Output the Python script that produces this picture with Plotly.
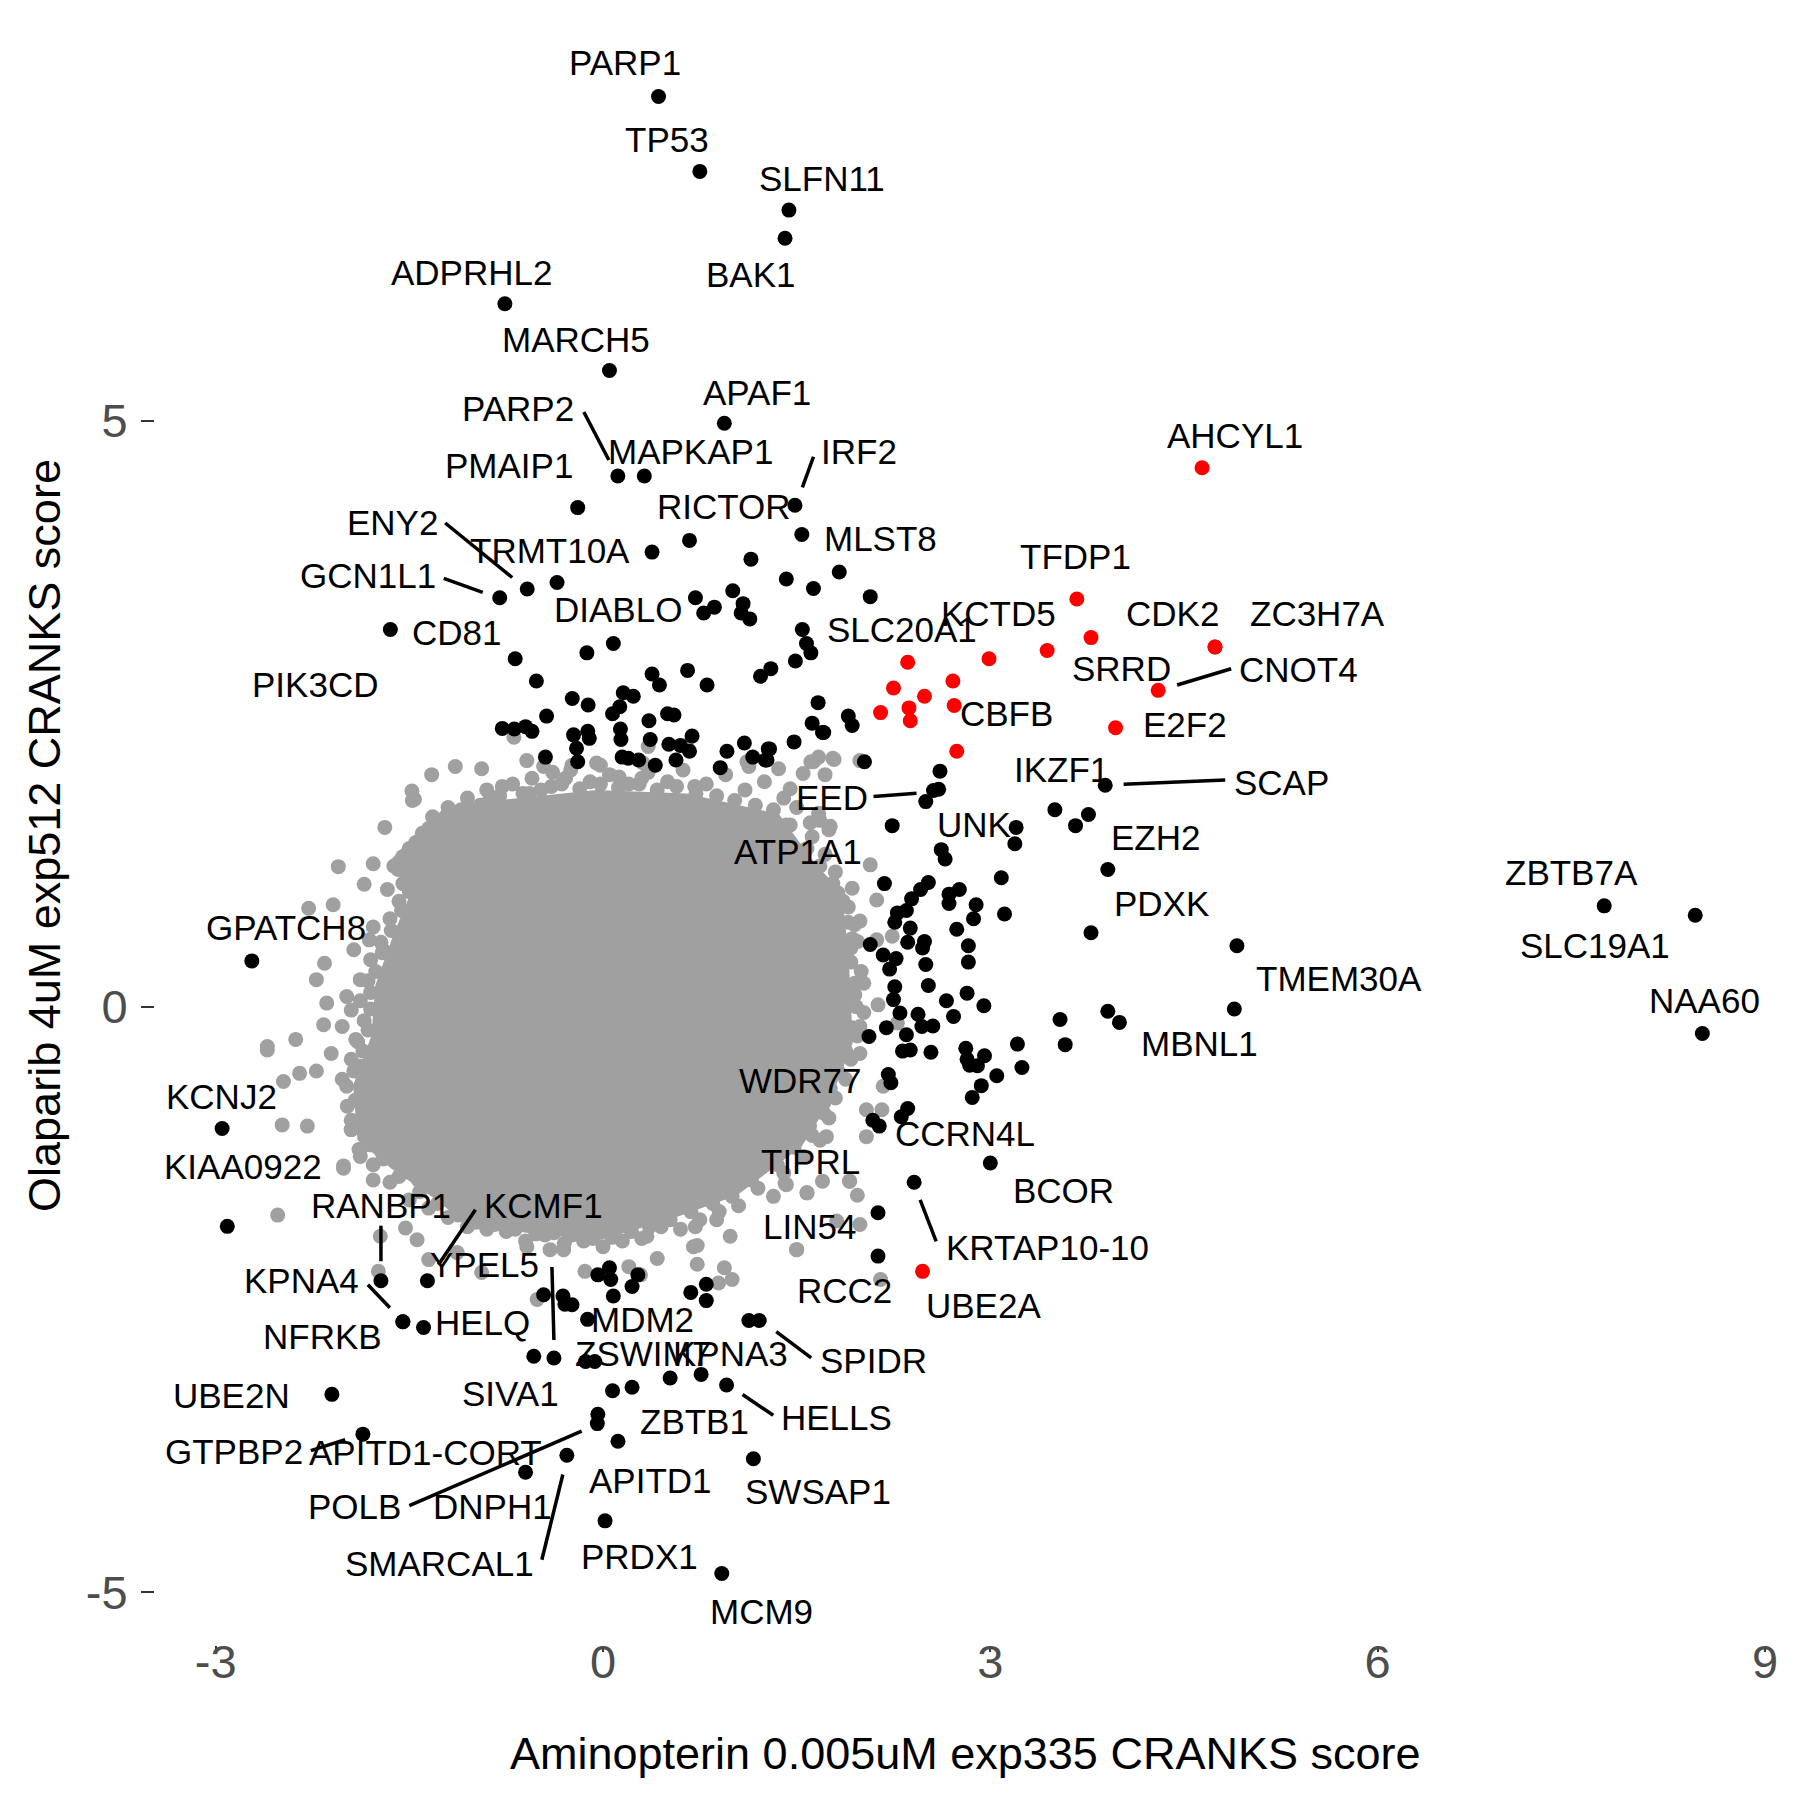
import plotly.graph_objects as go

# ---------------- data ----------------
# labelled genes: name, x score, y score, colour group
gene_names = ["PARP1","TP53","SLFN11","BAK1","ADPRHL2","MARCH5","APAF1","PARP2","MAPKAP1","PMAIP1",
              "IRF2","RICTOR","MLST8","ENY2","TRMT10A","GCN1L1","DIABLO","CD81","PIK3CD","SLC20A1",
              "KCTD5","TFDP1","SRRD","CDK2","ZC3H7A","CNOT4","CBFB","E2F2","IKZF1","SCAP",
              "EED","UNK","EZH2","ATP1A1","PDXK","ZBTB7A","SLC19A1","TMEM30A","NAA60","MBNL1",
              "GPATCH8","WDR77","CCRN4L","KCNJ2","KIAA0922","TIPRL","BCOR","KRTAP10-10","LIN54","RCC2",
              "UBE2A","RANBP1","KCMF1","YPEL5","KPNA4","NFRKB","HELQ","MDM2","ZSWIM7","KPNA3",
              "SPIDR","SIVA1","UBE2N","HELLS","ZBTB1","GTPBP2","APITD1-CORT","POLB","DNPH1","APITD1",
              "SMARCAL1","SWSAP1","PRDX1","MCM9","AHCYL1"]
gene_x = [0.43,0.75,1.44,1.41,-0.76,0.05,0.94,0.115,0.32,-0.196,
          1.487,0.67,1.83,-0.587,-0.356,-0.80,0.08,-0.68,-1.647,2.36,
          3.44,3.67,3.78,4.74,4.74,4.30,2.72,3.97,3.50,3.89,
          2.56,3.20,3.91,2.24,3.78,7.755,8.46,4.91,8.515,4.00,
          -2.72,2.21,2.14,-2.95,-2.91,1.91,3.00,2.41,2.13,2.13,
          2.475,-1.72,-1.36,-0.38,-1.55,-1.55,-1.39,-0.12,-0.064,0.76,
          1.21,-0.536,-2.10,0.957,0.225,-1.86,-0.04,-0.044,-0.60,0.116,
          -0.28,1.165,0.016,0.92,4.64]
gene_y = [7.77,7.13,6.80,6.56,6.00,5.43,4.98,4.53,4.53,4.26,
          4.28,3.98,3.71,3.565,3.62,3.49,3.10,2.97,3.22,2.94,
          3.04,3.48,3.15,3.07,3.07,2.70,2.57,2.38,1.68,1.89,
          1.845,1.53,1.17,1.545,0.63,0.86,0.78,0.52,-0.23,-0.135,
          0.39,-0.58,-1.02,-1.04,-1.876,-1.49,-1.335,-1.50,-1.76,-2.13,
          -2.26,-2.34,-2.34,-3.00,-2.69,-2.69,-2.74,-2.67,-3.03,-3.14,
          -2.68,-2.985,-3.31,-3.23,-3.25,-3.65,-3.48,-3.56,-3.975,-3.71,
          -3.83,-3.86,-4.39,-4.84,4.60]
gene_group = ["k","k","k","k","k","k","k","k","k","k",
              "k","k","k","k","k","k","k","k","k","r",
              "r","r","r","r","r","r","r","r","k","k",
              "k","k","k","k","k","k","k","k","k","k",
              "k","k","k","k","k","g","k","k","k","k",
              "r","k","k","k","k","k","k","k","k","k",
              "k","k","k","k","k","k","k","k","k","k",
              "k","k","k","k","r"]

# other significant (black) genes
black_x = [1.54,0.38,1.146,1.42,1.63,2.07,1.005,0.716,0.863,0.78,1.085,1.07,1.137,1.544,1.576,1.61,1.49,
           -0.125,-0.516,1.30,1.22,0.655,0.38,0.437,0.806,1.666,-0.238,-0.115,0.157,0.235,0.13,0.074,
           0.50,0.55,-0.437,0.356,1.90,1.93,1.62,1.71,-0.78,-0.687,-0.60,-0.55,-0.228,-0.118,-0.106,
           0.135,0.139,0.366,0.51,0.69,0.67,0.60,1.095,1.48,-0.205,-0.196,-0.446,0.148,0.196,0.276,
           0.405,0.565,0.96,0.908,1.16,1.29,1.27,2.025,1.28,1.257,1.70,
           2.61,2.60,2.50,3.66,3.76,3.19,2.62,2.65,3.085,2.18,2.52,2.46,2.76,2.68,2.39,2.68,2.89,3.11,
           2.35,2.28,2.26,2.87,2.38,2.74,2.07,2.36,2.49,2.475,2.17,2.27,2.83,2.83,2.50,2.22,2.26,2.52,
           2.82,2.25,2.66,2.95,2.30,2.44,2.715,2.47,2.555,3.54,3.91,4.89,2.195,2.06,2.35,3.58,3.21,
           3.245,2.54,2.32,2.38,2.81,2.82,2.955,2.84,2.90,3.05,2.93,2.86,2.23,2.36,2.31,2.09,
           -0.46,-0.31,-0.295,-0.24,-0.04,0.05,0.06,0.27,0.08,0.225,0.68,0.80,0.80,1.13,-0.135,0.52,0.074]
black_y = [4.03,3.88,3.82,3.65,3.57,3.50,3.55,3.49,3.41,3.36,3.44,3.36,3.31,3.22,3.10,3.02,2.95,
           3.02,2.78,2.885,2.82,2.87,2.84,2.745,2.745,2.595,2.63,2.575,2.68,2.65,2.56,2.50,
           2.50,2.49,2.48,2.44,2.48,2.40,2.42,2.34,2.375,2.37,2.39,2.35,2.32,2.35,2.29,
           2.37,2.28,2.28,2.24,2.31,2.18,2.23,2.25,2.26,2.205,2.09,2.13,2.13,2.12,2.105,
           2.06,2.105,2.18,2.04,2.13,2.20,2.105,2.09,2.20,2.105,2.34,
           2.01,1.855,1.75,1.545,1.64,1.39,1.34,1.26,1.10,1.05,1.06,1.00,1.00,0.96,0.92,0.88,0.87,0.79,
           0.82,0.80,0.72,0.75,0.67,0.66,0.53,0.55,0.555,0.50,0.44,0.41,0.52,0.38,0.36,0.32,0.17,0.18,
           0.115,0.06,0.05,0.007,-0.055,-0.065,-0.085,-0.17,-0.165,-0.11,-0.04,-0.02,-0.18,-0.255,-0.24,-0.325,-0.32,
           -0.52,-0.39,-0.38,-0.37,-0.355,-0.45,-0.42,-0.50,-0.505,-0.59,-0.675,-0.775,-0.65,-0.87,-0.94,-0.97,
           -2.46,-2.47,-2.54,-2.545,-2.29,-2.23,-2.33,-2.29,-2.47,-2.39,-2.44,-2.37,-2.51,-2.68,-3.03,-3.17,-3.28]

# other red genes
red_x = [2.99,2.71,2.25,2.49,2.15,2.37,2.38,2.74]
red_y = [2.97,2.78,2.72,2.65,2.51,2.55,2.44,2.18]

# outline of the dense grey core of non-significant genes
core_x = [-1.29,-0.74,-0.05,0.64,1.33,1.61,1.80,1.85,1.88,1.70,1.50,1.27,1.01,0.50,-0.02,-0.54,
          -1.05,-1.26,-1.60,-1.85,-1.88,-1.74,-1.71,-1.57,-1.43,-1.57]
core_y = [1.57,1.71,1.79,1.76,1.59,1.17,0.95,0.40,-0.30,-0.80,-1.15,-1.36,-1.56,-1.76,-1.93,-1.88,
          -1.79,-1.60,-1.34,-1.11,-0.68,-0.26,0.17,0.60,0.97,1.25]

# grey genes packed just outside the core
inner_x = [-1.10,-0.95,-0.80,-0.62,-0.48,-0.32,-0.18,-0.02,0.12,0.28,0.42,0.57,0.72,0.88,1.02,1.18,1.32,1.45,
           1.58,1.68,1.78,1.86,1.90,1.93,1.92,1.95,1.96,1.93,1.88,1.82,1.76,1.68,1.60,1.48,1.35,
           1.15,1.00,0.85,0.68,0.52,0.36,0.22,0.07,-0.08,-0.24,-0.38,-0.52,-0.68,-0.84,-0.98,-1.12,-1.28,-1.42,
           -1.58,-1.70,-1.80,-1.88,-1.92,-1.93,-1.86,-1.82,-1.80,-1.80,-1.76,-1.70,-1.64,-1.56,-1.50,-1.52,-1.55,-1.45,-1.35,-1.22]
inner_y = [1.68,1.72,1.80,1.82,1.85,1.90,1.86,1.90,1.87,1.90,1.85,1.88,1.82,1.80,1.76,1.72,1.68,1.55,
           1.35,1.20,1.05,0.90,0.72,0.58,0.38,0.20,0.00,-0.18,-0.38,-0.55,-0.70,-0.88,-1.02,-1.20,-1.35,
           -1.48,-1.62,-1.68,-1.75,-1.82,-1.88,-1.92,-1.97,-1.98,-1.95,-1.93,-1.94,-1.90,-1.86,-1.84,-1.78,-1.68,-1.58,
           -1.45,-1.30,-1.18,-1.00,-0.80,-0.55,-0.38,-0.20,-0.02,0.12,0.30,0.48,0.65,0.82,0.98,1.12,1.28,1.40,1.52,1.62]

# grey genes on the fringe of the core
fringe_x = [-1.20,-1.05,-0.90,-0.70,-0.55,-0.40,-0.25,-0.10,0.05,0.20,0.35,0.50,0.62,0.80,0.95,1.10,1.25,1.40,1.50,
            1.62,1.72,1.80,1.90,1.95,1.92,2.00,1.95,2.02,1.97,1.92,1.88,1.80,1.75,1.62,1.55,1.40,
            1.20,1.05,0.90,0.75,0.60,0.45,0.30,0.15,0.00,-0.15,-0.30,-0.45,-0.60,-0.75,-0.90,-1.05,-1.20,-1.35,-1.50,
            -1.65,-1.78,-1.88,-1.95,-1.98,-2.02,-1.95,-1.90,-1.85,-1.88,-1.82,-1.80,-1.72,-1.65,-1.58,-1.55,-1.62,-1.50,-1.40,-1.32]
fringe_y = [1.70,1.78,1.85,1.90,1.95,1.88,2.02,1.92,1.98,1.90,2.00,1.92,2.02,1.90,1.98,1.85,1.92,1.78,1.70,
            1.45,1.30,1.15,0.85,0.70,0.50,0.30,0.10,-0.05,-0.25,-0.45,-0.62,-0.78,-0.95,-1.10,-1.28,-1.42,
            -1.55,-1.70,-1.75,-1.82,-1.90,-1.88,-1.98,-2.00,-2.05,-2.00,-2.02,-1.95,-2.00,-1.92,-1.90,-1.88,-1.80,-1.72,-1.65,
            -1.50,-1.35,-1.22,-1.05,-0.85,-0.62,-0.45,-0.30,-0.12,0.05,0.22,0.40,0.55,0.75,0.90,1.05,1.20,1.35,1.48,1.62]

# scattered grey genes around the core
gray_x = [-1.144,-0.94,-1.327,-0.78,-1.48,-1.477,-1.69,-2.05,-1.85,-1.587,-1.52,-1.67,-2.09,-2.28,-1.50,
          -1.93,-1.81,-2.157,-2.22,-2.14,-1.985,-2.02,-2.164,-2.38,-2.60,-2.105,-2.35,-2.22,-2.475,-2.485,
          -2.29,-1.95,-2.01,-2.52,-1.88,-1.78,-2.60,-1.78,-1.46,-0.39,-0.69,-0.02,0.65,0.35,1.63,1.79,
          1.72,1.45,1.55,1.36,1.67,1.76,1.605,2.07,1.93,1.785,1.42,1.115,2.12,1.99,2.24,2.12,1.97,2.02,
          2.13,1.99,2.28,1.99,2.17,2.04,2.16,2.04,1.91,1.97,1.70,1.58,1.41,1.32,1.50,1.81,1.99,2.15,
          1.73,1.71,-2.01,-1.89,-1.74,-1.725,-1.53,-1.44,-1.35,-1.13,-0.94,-0.73,-0.59,-0.41,-0.305,
          -0.14,-0.51,0.20,0.34,0.42,0.70,0.88,0.985,1.00,0.895,0.29,0.715,1.50,1.42,1.58,
          -0.46,-0.29,-0.05,0.125,0.30,0.71,1.13,1.61,1.78,1.68,1.75,1.61,1.82,1.78,1.71,1.78,1.71,
          1.68,0.99,0.64,0.02,-0.57,-1.085,-1.43,-1.71,-1.95,-1.985,-1.88,-1.915,-1.95,-1.88,-1.71,
          -1.78,-1.43,-1.33,-1.22,-1.02,-1.155,-0.88,-0.57,-1.04,-0.59,-0.24,0.31,1.67,1.99,0.73,0.73,0.94]
gray_y = [2.05,2.03,1.98,1.88,1.84,1.76,1.53,1.195,1.045,1.17,1.05,1.00,0.87,0.84,0.68,
          0.485,0.57,0.37,0.23,0.03,0.086,-0.17,-0.155,-0.28,-0.37,-0.40,-0.57,-0.55,-0.64,-1.01,
          -1.02,-1.05,-1.36,-1.78,-1.28,-1.48,-0.34,1.22,1.77,2.00,2.30,2.06,2.23,2.22,2.09,2.11,
          1.98,1.86,1.99,2.03,1.65,1.54,1.57,1.21,1.01,0.98,1.55,2.09,0.91,0.73,0.60,0.57,0.555,0.20,
          0.015,-0.17,-0.14,-0.40,-0.68,-0.88,-0.88,-1.11,-1.49,-1.61,-1.49,-1.59,-1.51,-1.62,-2.075,-1.83,-1.86,-2.33,
          -1.11,-0.91,-1.38,-1.22,-2.26,-1.96,-1.89,-1.99,-2.16,-2.10,-2.27,-1.90,-2.05,-2.075,-2.075,
          -2.26,-2.50,-2.22,-1.96,-2.15,-2.05,-1.82,-1.96,-2.33,-2.36,-2.29,-1.88,-2.075,-1.52,-1.59,
          2.05,1.95,2.08,1.96,1.95,1.88,2.05,2.09,2.12,1.59,1.51,1.11,0.97,0.63,0.09,-0.28,-0.82,
          -1.14,-1.28,-1.39,-1.48,-1.51,-1.59,-1.48,-1.25,-0.97,-0.68,-0.51,-0.28,-0.03,0.23,0.46,
          0.68,0.85,1.17,1.51,1.68,1.59,1.76,1.82,1.59,2.10,2.06,2.08,2.13,2.10,-2.04,-2.20,-2.23]

x_ticks = [-3, 0, 3, 6, 9]
x_tick_text = ["-3", "0", "3", "6", "9"]
y_ticks = [-5, 0, 5]
y_tick_text = ["-5", "0", "5"]
x_title = "Aminopterin 0.005uM exp335 CRANKS score"
y_title = "Olaparib 4uM exp512 CRANKS score"

# ---------------- label layout (pixel offsets of label centre from point, y down) ----------------
label_dx = [-34,-33,33,-34,-33,-33,33,-100,46,-69,
            64,34,41,-135,-7,-132,5,-59,-75,-6,
            -49,-1,30,-42,103,140,52,69,7,176,
            -102,-42,48,-94,70,-33,-100,102,2,80,
            34,-88,86,-1,16,-39,73,133,-69,-34,
            61,0,116,-69,-101,-80,59,55,48,29,
            114,-23,-100,110,62,-129,-172,-243,-33,33,
            -127,65,34,40,33]
label_dy = [-34,-32,-32,36,-31,-31,-31,-67,-24,-42,
            -54,-34,-34,-67,-32,-22,-34,-26,55,-33,
            -37,-42,31,-34,-34,-21,8,-3,-40,-3,
            7,-3,-32,26,-29,-33,30,33,-33,21,
            -33,6,7,-32,-60,-20,28,65,14,34,
            34,-75,-75,-94,-41,15,-5,0,-8,-21,
            40,37,1,33,34,17,38,83,34,39,
            108,33,36,38,-32]

# connector segments (pixel offsets from the point: start, end; y down)
seg_names = ["PARP2","IRF2","ENY2","GCN1L1","CNOT4","SCAP","EED","KRTAP10-10","RANBP1","KCMF1",
             "YPEL5","KPNA4","SPIDR","HELLS","GTPBP2","POLB","SMARCAL1"]
seg_x0 = [-34,18.5,-82,-56,73,120,-60,6,0,48,-2,-35,17,16,-52,-188,-25]
seg_y0 = [-64,-48.5,-66,-19.5,-21.6,-5.3,6,17.6,-55,-71,-91,-37,11,9.6,16.4,82,104.5]
seg_x1 = [-9,7.4,-15,-17,19,18.4,-17,22,0,11,0,-13,52,46.7,-17.7,-15.7,-4]
seg_y1 = [-16,-17.8,-11.5,-5.4,-5.3,-0.9,2.8,59,-19.5,-16,-18,-14,37.4,30.3,5.4,7.6,19.3]

GRAY = "#a0a0a0"
FONT = "Liberation Sans, Arial, sans-serif"
MS = 15

fig = go.Figure()
fig.add_trace(go.Scatter(x=core_x + core_x[:1], y=core_y + core_y[:1], mode="lines", fill="toself",
                         fillcolor=GRAY, line=dict(color=GRAY, width=14), hoverinfo="skip", showlegend=False))
gx_all = inner_x + fringe_x + gray_x + [x for x, g in zip(gene_x, gene_group) if g == "g"]
gy_all = inner_y + fringe_y + gray_y + [y for y, g in zip(gene_y, gene_group) if g == "g"]
fig.add_trace(go.Scatter(x=gx_all, y=gy_all, mode="markers",
                         marker=dict(color=GRAY, size=MS, line=dict(width=0)), showlegend=False))
bx = black_x + [x for x, g in zip(gene_x, gene_group) if g == "k"]
by = black_y + [y for y, g in zip(gene_y, gene_group) if g == "k"]
fig.add_trace(go.Scatter(x=bx, y=by, mode="markers",
                         marker=dict(color="black", size=MS, line=dict(width=0)), showlegend=False))
rx = red_x + [x for x, g in zip(gene_x, gene_group) if g == "r"]
ry = red_y + [y for y, g in zip(gene_y, gene_group) if g == "r"]
fig.add_trace(go.Scatter(x=rx, y=ry, mode="markers",
                         marker=dict(color="#ff0000", size=MS, line=dict(width=0)), showlegend=False))

lookup = {n: (x, y) for n, x, y in zip(gene_names, gene_x, gene_y)}
shapes = []
for n, a0, b0, a1, b1 in zip(seg_names, seg_x0, seg_y0, seg_x1, seg_y1):
    px, py = lookup[n]
    shapes.append(dict(type="line", xref="x", yref="y", xsizemode="pixel", ysizemode="pixel",
                       xanchor=px, yanchor=py, x0=a0, x1=a1, y0=-b0, y1=-b1,
                       line=dict(color="black", width=3.5), layer="above"))

annotations = []
for name, x, y, dx, dy in zip(gene_names, gene_x, gene_y, label_dx, label_dy):
    annotations.append(dict(x=x, y=y, xref="x", yref="y", text=name, showarrow=False,
                            xshift=dx, yshift=-dy, xanchor="center", yanchor="middle",
                            font=dict(family=FONT, size=35, color="black")))

annotations.append(dict(x=0.5, y=-0.0667, xref="paper", yref="paper", text=x_title, showarrow=False,
                        xanchor="center", yanchor="middle", font=dict(family=FONT, size=45, color="black")))
annotations.append(dict(x=-0.0686, y=0.5, xref="paper", yref="paper", text=y_title, showarrow=False,
                        textangle=-90, xanchor="center", yanchor="middle",
                        font=dict(family=FONT, size=45, color="black")))

fig.update_layout(
    width=1800, height=1800,
    margin=dict(l=147, r=34, t=17, b=163),
    paper_bgcolor="white", plot_bgcolor="white",
    showlegend=False,
    annotations=annotations,
    shapes=shapes,
    xaxis=dict(range=[-3.47, 9.07], tickvals=x_ticks, ticktext=x_tick_text, showgrid=False,
               zeroline=False, showline=False, ticks="outside", ticklen=6, tickwidth=2,
               tickcolor="#333333", ticklabelstandoff=-30,
               tickfont=dict(family=FONT, size=47, color="#4d4d4d")),
    yaxis=dict(range=[-5.45, 8.38], tickvals=y_ticks, ticktext=y_tick_text, showgrid=False,
               zeroline=False, showline=False, ticks="outside", ticklen=13, tickwidth=2,
               tickcolor="#333333", ticklabelstandoff=4,
               tickfont=dict(family=FONT, size=47, color="#4d4d4d")),
)

fig.write_html("out.html")
